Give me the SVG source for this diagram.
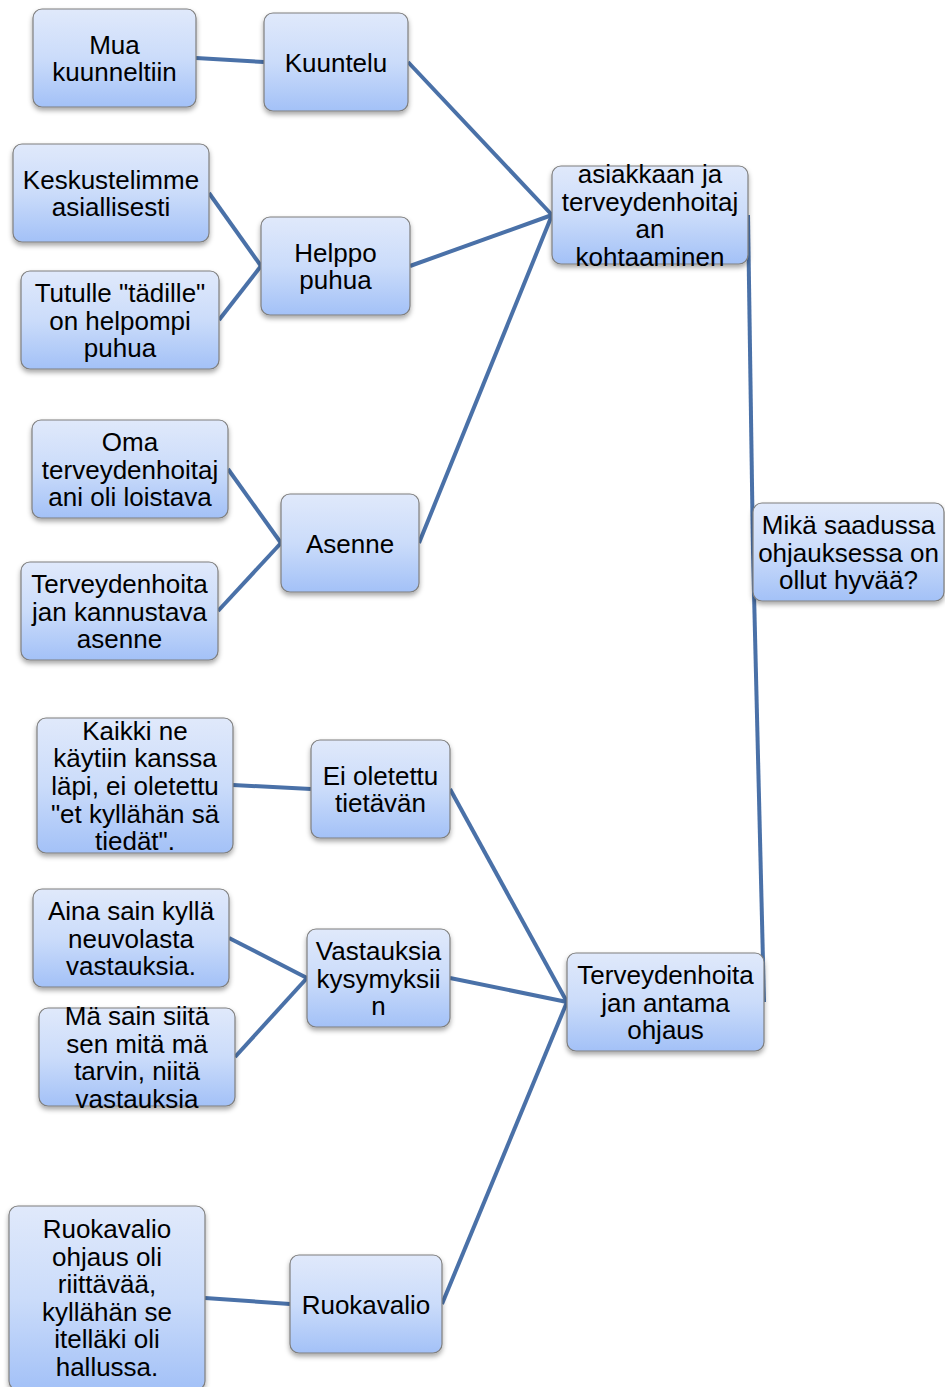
<svg xmlns="http://www.w3.org/2000/svg" width="945" height="1387" viewBox="0 0 945 1387">
<defs>
<linearGradient id="g" x1="0" y1="0" x2="0" y2="1">
<stop offset="0" stop-color="#e0e9fb"/>
<stop offset="0.5" stop-color="#cbdcfa"/>
<stop offset="1" stop-color="#a3c1f7"/>
</linearGradient>
<filter id="sh" x="-10%" y="-10%" width="120%" height="130%">
<feDropShadow dx="0" dy="3" stdDeviation="2.5" flood-color="#000" flood-opacity="0.35"/>
</filter>
</defs>
<style>
.box{fill:url(#g);stroke:#7f7f7f;stroke-width:1.2;filter:url(#sh)}
.t{font-family:"Liberation Sans",Arial,sans-serif;font-size:26px;fill:#000;text-anchor:middle}
.c{stroke:#4a71a8;stroke-width:4;fill:none}
</style>
<g id="connectors">
<line class="c" x1="196" y1="58" x2="264" y2="62"/>
<line class="c" x1="408" y1="62" x2="552" y2="215"/>
<line class="c" x1="209" y1="193" x2="261" y2="266"/>
<line class="c" x1="219" y1="320" x2="261" y2="266"/>
<line class="c" x1="410" y1="266" x2="552" y2="215"/>
<line class="c" x1="228" y1="469" x2="281" y2="543"/>
<line class="c" x1="218" y1="611" x2="281" y2="543"/>
<line class="c" x1="419" y1="543" x2="552" y2="215"/>
<line class="c" x1="748" y1="215" x2="753" y2="552"/>
<line class="c" x1="753" y1="552" x2="764" y2="1002"/>
<line class="c" x1="233" y1="785" x2="311" y2="789"/>
<line class="c" x1="450" y1="789" x2="567" y2="1002"/>
<line class="c" x1="229" y1="938" x2="307" y2="978"/>
<line class="c" x1="235" y1="1057" x2="307" y2="978"/>
<line class="c" x1="450" y1="978" x2="567" y2="1002"/>
<line class="c" x1="205" y1="1298" x2="290" y2="1304"/>
<line class="c" x1="442" y1="1304" x2="567" y2="1002"/>
</g>
<g id="n-mua"><rect class="box" x="33" y="9" width="163" height="98" rx="9"/>
<text class="t"><tspan x="114.5" y="53.7">Mua</tspan><tspan x="114.5" y="81.3">kuunneltiin</tspan></text></g>
<g id="n-kuuntelu"><rect class="box" x="264" y="13" width="144" height="98" rx="9"/>
<text class="t"><tspan x="336" y="71.5">Kuuntelu</tspan></text></g>
<g id="n-keskustelimme"><rect class="box" x="13" y="144" width="196" height="98" rx="9"/>
<text class="t"><tspan x="111" y="188.7">Keskustelimme</tspan><tspan x="111" y="216.3">asiallisesti</tspan></text></g>
<g id="n-helppo"><rect class="box" x="261" y="217" width="149" height="98" rx="9"/>
<text class="t"><tspan x="335.5" y="261.7">Helppo</tspan><tspan x="335.5" y="289.3">puhua</tspan></text></g>
<g id="n-tutulle"><rect class="box" x="21" y="271" width="198" height="98" rx="9"/>
<text class="t"><tspan x="120" y="301.9">Tutulle "tädille"</tspan><tspan x="120" y="329.5">on helpompi</tspan><tspan x="120" y="357.1">puhua</tspan></text></g>
<g id="n-kohtaaminen"><rect class="box" x="552" y="166" width="196" height="98" rx="9"/>
<text class="t"><tspan x="650" y="183.1">asiakkaan ja</tspan><tspan x="650" y="210.7">terveydenhoitaj</tspan><tspan x="650" y="238.3">an</tspan><tspan x="650" y="265.9">kohtaaminen</tspan></text></g>
<g id="n-oma"><rect class="box" x="32" y="420" width="196" height="98" rx="9"/>
<text class="t"><tspan x="130" y="450.9">Oma</tspan><tspan x="130" y="478.5">terveydenhoitaj</tspan><tspan x="130" y="506.1">ani oli loistava</tspan></text></g>
<g id="n-asenne"><rect class="box" x="281" y="494" width="138" height="98" rx="9"/>
<text class="t"><tspan x="350" y="552.5">Asenne</tspan></text></g>
<g id="n-kannustava"><rect class="box" x="21" y="562" width="197" height="98" rx="9"/>
<text class="t"><tspan x="119.5" y="592.9">Terveydenhoita</tspan><tspan x="119.5" y="620.5">jan kannustava</tspan><tspan x="119.5" y="648.1">asenne</tspan></text></g>
<g id="n-mika"><rect class="box" x="753" y="503" width="191" height="98" rx="9"/>
<text class="t"><tspan x="848.5" y="533.9">Mikä saadussa</tspan><tspan x="848.5" y="561.5">ohjauksessa on</tspan><tspan x="848.5" y="589.1">ollut hyvää?</tspan></text></g>
<g id="n-kaikki"><rect class="box" x="37" y="718" width="196" height="135" rx="9"/>
<text class="t"><tspan x="135" y="739.8">Kaikki ne</tspan><tspan x="135" y="767.4">käytiin kanssa</tspan><tspan x="135" y="795">läpi, ei oletettu</tspan><tspan x="135" y="822.6">"et kyllähän sä</tspan><tspan x="135" y="850.2">tiedät".</tspan></text></g>
<g id="n-eioletettu"><rect class="box" x="311" y="740" width="139" height="98" rx="9"/>
<text class="t"><tspan x="380.5" y="784.7">Ei oletettu</tspan><tspan x="380.5" y="812.3">tietävän</tspan></text></g>
<g id="n-aina"><rect class="box" x="33" y="889" width="196" height="98" rx="9"/>
<text class="t"><tspan x="131" y="919.9">Aina sain kyllä</tspan><tspan x="131" y="947.5">neuvolasta</tspan><tspan x="131" y="975.1">vastauksia.</tspan></text></g>
<g id="n-vastauksia"><rect class="box" x="307" y="929" width="143" height="98" rx="9"/>
<text class="t"><tspan x="378.5" y="959.9">Vastauksia</tspan><tspan x="378.5" y="987.5">kysymyksii</tspan><tspan x="378.5" y="1015.1">n</tspan></text></g>
<g id="n-ma"><rect class="box" x="39" y="1008" width="196" height="98" rx="9"/>
<text class="t"><tspan x="137" y="1025.1">Mä sain siitä</tspan><tspan x="137" y="1052.7">sen mitä mä</tspan><tspan x="137" y="1080.3">tarvin, niitä</tspan><tspan x="137" y="1107.9">vastauksia</tspan></text></g>
<g id="n-ohjaus"><rect class="box" x="567" y="953" width="197" height="98" rx="9"/>
<text class="t"><tspan x="665.5" y="983.9">Terveydenhoita</tspan><tspan x="665.5" y="1011.5">jan antama</tspan><tspan x="665.5" y="1039.1">ohjaus</tspan></text></g>
<g id="n-ruokaohjaus"><rect class="box" x="9" y="1206" width="196" height="184" rx="9"/>
<text class="t"><tspan x="107" y="1238">Ruokavalio</tspan><tspan x="107" y="1265.6">ohjaus oli</tspan><tspan x="107" y="1293.2">riittävää,</tspan><tspan x="107" y="1320.8">kyllähän se</tspan><tspan x="107" y="1348.4">itelläki oli</tspan><tspan x="107" y="1376">hallussa.</tspan></text></g>
<g id="n-ruokavalio"><rect class="box" x="290" y="1255" width="152" height="98" rx="9"/>
<text class="t"><tspan x="366" y="1313.5">Ruokavalio</tspan></text></g>
</svg>
